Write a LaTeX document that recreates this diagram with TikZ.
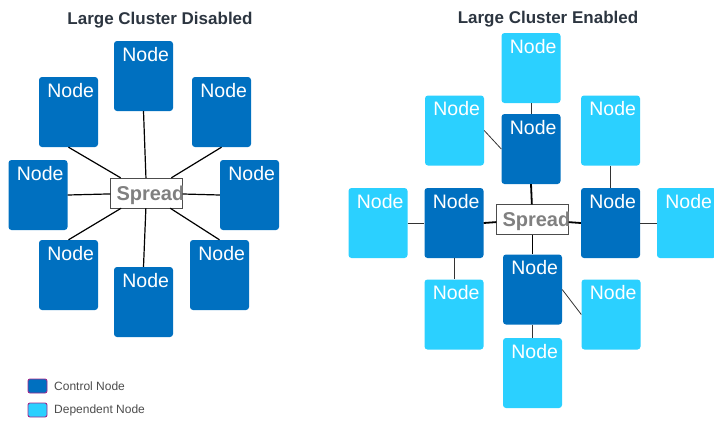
\documentclass[tikz,border=0pt]{standalone}
\usepackage{fontspec}
\setmainfont{Liberation Sans}
\usepackage{xcolor}
\usepackage{tikz}
\usetikzlibrary{shapes, arrows}
\definecolor{ctrlblue}{RGB}{0,112,192}
\definecolor{depblue}{RGB}{43,208,255}
\definecolor{titlegray}{RGB}{44,53,64}
\definecolor{legendline}{RGB}{160,40,140}
\tikzstyle{ctrl} = [rectangle, fill=ctrlblue, rounded corners=3pt, minimum width=59pt, minimum height=70pt, inner xsep=4pt, inner ysep=0pt, text width=51pt, align=right, text=white, font=\fontsize{19.5}{19.5}\selectfont, text height=20pt, text depth=50pt]
\tikzstyle{dep} = [ctrl, fill=depblue]
\tikzstyle{hub} = [draw=black!70, fill=white, rectangle, minimum height=30pt, inner xsep=6pt, inner ysep=0pt, text width=60pt, align=left, text=black!50, font=\fontsize{20}{20}\selectfont\bfseries, text height=14.6pt, text depth=0pt]
\tikzstyle{heading} = [text=titlegray, font=\fontsize{17}{17}\selectfont\bfseries]
\tikzstyle{key} = [draw=legendline, line width=0.9pt, rounded corners=2pt, minimum width=19pt, minimum height=14pt, inner sep=0pt]
\tikzstyle{keytext} = [anchor=west, inner sep=0pt, text=black!70, font=\fontsize{12}{12}\selectfont]
\tikzstyle{link} = [draw, line width=1.2pt]
\tikzstyle{thin} = [draw, black!80, line width=0.8pt]

\begin{document}
\begin{tikzpicture}[x=1pt, y=-1pt, node distance=76pt]
    \useasboundingbox (0,0) rectangle (714,421);

    % 标题
    \node [heading] (titleL) at (160,20) {Large Cluster Disabled};
    \node [heading] (titleR) at (548,19) {Large Cluster Enabled};

    % 左边: 没有控制节点
    \node [hub] (hubL) at (146.5,193) {Spread};
    \node [ctrl] (nT) at (143.5,76) {Node};
    \node [ctrl] (nTL) at (68.5,112) {Node};
    \node [ctrl] (nTR) at (221.5,112) {Node};
    \node [ctrl] (nL) at (38,195) {Node};
    \node [ctrl] (nR) at (249.5,195) {Node};
    \node [ctrl] (nBL) at (68.5,275) {Node};
    \node [ctrl] (nBR) at (219.5,275) {Node};
    \node [ctrl] (nB) at (143.5,302) {Node};

    \draw [link] (nT.south) -- (hubL);
    \draw [link] (nTL.south) -- (hubL);
    \draw [link] (nTR.south) -- (hubL);
    \draw [link] (nL.east) -- (hubL);
    \draw [link] (nR.west) -- (hubL);
    \draw [link] (nBL.north) -- (hubL);
    \draw [link] (nBR.north) -- (hubL);
    \draw [link] (nB.north) -- (hubL);

    % 右边: 控制节点 + 从属节点
    \node [hub] (hubR) at (532.5,219.5) {Spread};
    \node [ctrl] (cT) at (531,149) {Node};
    \node [ctrl] (cL) at (454,223) {Node};
    \node [ctrl] (cR) at (610.5,223) {Node};
    \node [ctrl] (cB) at (532.5,289.5) {Node};

    \node [dep, above of=cT, node distance=81pt] (dT) {Node};
    \node [dep, below of=cB, node distance=83.5pt] (dB) {Node};
    \node [dep, left of=cL] (dL) {Node};
    \node [dep, right of=cR] (dR) {Node};
    \node [dep] (dTL) at (454.5,130.5) {Node};
    \node [dep] (dTR) at (610.5,130.5) {Node};
    \node [dep] (dBL) at (454,314.5) {Node};
    \node [dep] (dBR) at (611,314.5) {Node};

    \draw [link, line width=1.8pt] (cT.south) -- (hubR);
    \draw [link, line width=1.8pt] (cL.east) -- (hubR);
    \draw [link, line width=1.8pt] (cR.west) -- (hubR);
    \draw [link, line width=1.8pt] (cB.north) -- (hubR);

    \draw [thin] (dT.south) -- (cT.north);
    \draw [thin] (dTL.east) -- (cT.west);
    \draw [thin] (dTR.south) -- (cR.north);
    \draw [thin] (dL.east) -- (cL.west);
    \draw [thin] (cL.south) -- (dBL.north);
    \draw [thin] (cR.east) -- (dR.west);
    \draw [thin] (cB.east) -- (dBR.west);
    \draw [thin] (cB.south) -- (dB.north);

    % 图例
    \node [key, fill=ctrlblue] (keyC) at (37.5,386) {};
    \node [key, fill=depblue] (keyD) at (37.5,410) {};
    \node [keytext] (keyCtext) at (54,386) {Control Node};
    \node [keytext] (keyDtext) at (54,410) {Dependent Node};
\end{tikzpicture}
\end{document}
